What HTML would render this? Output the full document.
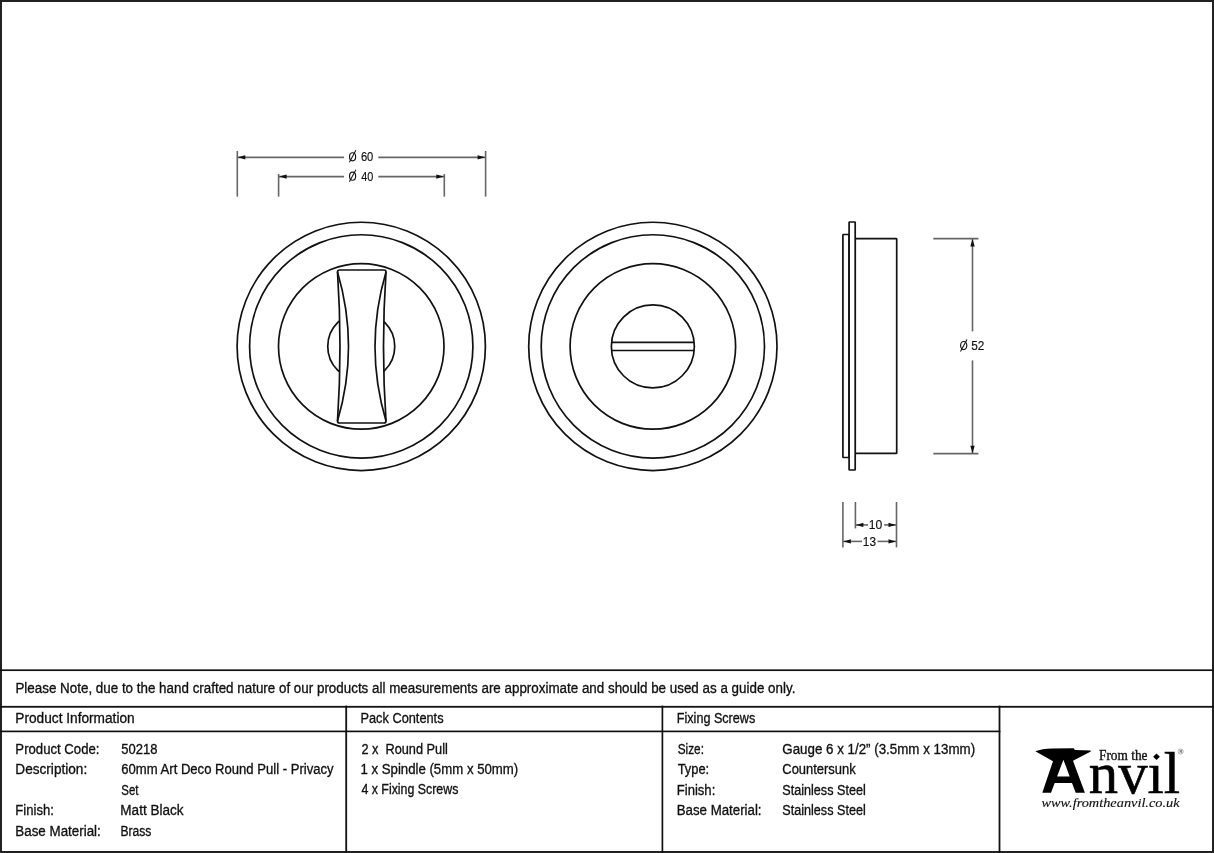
<!DOCTYPE html>
<html><head><meta charset="utf-8"><title>Drawing</title>
<style>html,body{margin:0;padding:0;background:#fff;width:1214px;height:853px;overflow:hidden}svg{display:block;will-change:transform}text{white-space:pre}</style>
</head><body>
<svg width="1214" height="853" viewBox="0 0 1214 853">
<rect x="0" y="0" width="1214" height="853" fill="#fff"/>
<rect x="1" y="1" width="1212" height="851" fill="none" stroke="#222" stroke-width="2"/>
<rect x="0" y="669.35" width="1214" height="1.7" fill="#111"/>
<rect x="0" y="705.9" width="1214" height="1.8" fill="#111"/>
<rect x="0" y="730.55" width="1000.4" height="1.7" fill="#111"/>
<rect x="345.3" y="705.6" width="1.8" height="148" fill="#111"/>
<rect x="661.55" y="705.6" width="1.7" height="148" fill="#111"/>
<rect x="998.6" y="705.6" width="1.8" height="148" fill="#111"/>
<circle cx="361.25" cy="346.4" r="124.15" fill="none" stroke="#111" stroke-width="1.7"/>
<circle cx="361.25" cy="346.4" r="111.65" fill="none" stroke="#111" stroke-width="1.7"/>
<circle cx="361.25" cy="346.4" r="82.75" fill="none" stroke="#111" stroke-width="1.7"/>
<circle cx="361.25" cy="346.4" r="33.5" fill="none" stroke="#111" stroke-width="1.7"/>
<path d="M339.5,270.0 L384.0,270.0 Q386.0,270.0 386.0,272.0 Q381.0,346.5 386.0,421.0 Q386.0,423.0 384.0,423.0 L339.5,423.0 Q337.5,423.0 337.5,421.0 Q342.5,346.5 337.5,272.0 Q337.5,270.0 339.5,270.0 Z" fill="#fff" stroke="#111" stroke-width="1.7" stroke-linejoin="round"/>
<path d="M337.5,272.0 Q359.5,346.5 337.5,421.0" fill="none" stroke="#111" stroke-width="1.7"/>
<path d="M386.0,272.0 Q364.0,346.5 386.0,421.0" fill="none" stroke="#111" stroke-width="1.7"/>
<circle cx="652.85" cy="346.4" r="124.15" fill="none" stroke="#111" stroke-width="1.7"/>
<circle cx="652.85" cy="346.4" r="111.65" fill="none" stroke="#111" stroke-width="1.7"/>
<circle cx="652.85" cy="346.4" r="82.75" fill="none" stroke="#111" stroke-width="1.7"/>
<circle cx="652.85" cy="346.4" r="41.5" fill="none" stroke="#111" stroke-width="1.7"/>
<line x1="611.55" y1="342.3" x2="694.15" y2="342.3" stroke="#111" stroke-width="1.7"/>
<line x1="611.55" y1="350.5" x2="694.15" y2="350.5" stroke="#111" stroke-width="1.7"/>
<rect x="855.2" y="238.7" width="41.50" height="214.70" rx="0.5" fill="#fff" stroke="#111" stroke-width="1.7"/>
<rect x="842.9" y="234.5" width="6.20" height="223.00" rx="0.6" fill="#fff" stroke="#111" stroke-width="1.7"/>
<rect x="849.1" y="222.0" width="6.10" height="248.00" rx="0.6" fill="#fff" stroke="#111" stroke-width="1.7"/>
<line x1="237.3" y1="151" x2="237.3" y2="196.6" stroke="#666" stroke-width="1.6"/>
<line x1="485.6" y1="151" x2="485.6" y2="196.6" stroke="#666" stroke-width="1.6"/>
<line x1="237.3" y1="157.35" x2="344" y2="157.35" stroke="#666" stroke-width="1.6"/>
<line x1="378.3" y1="157.35" x2="485.6" y2="157.35" stroke="#666" stroke-width="1.6"/>
<path d="M237.80,157.35 L245.30,155.15 L245.30,159.55 Z" fill="#111"/>
<path d="M485.10,157.35 L477.60,159.55 L477.60,155.15 Z" fill="#111"/>
<line x1="278.6" y1="174" x2="278.6" y2="196.6" stroke="#666" stroke-width="1.6"/>
<line x1="444.3" y1="174" x2="444.3" y2="196.6" stroke="#666" stroke-width="1.6"/>
<line x1="278.6" y1="176.6" x2="344" y2="176.6" stroke="#666" stroke-width="1.6"/>
<line x1="378.3" y1="176.6" x2="444.3" y2="176.6" stroke="#666" stroke-width="1.6"/>
<path d="M279.10,176.60 L286.60,174.40 L286.60,178.80 Z" fill="#111"/>
<path d="M443.80,176.60 L436.30,178.80 L436.30,174.40 Z" fill="#111"/>
<line x1="933.3" y1="238.6" x2="978.4" y2="238.6" stroke="#666" stroke-width="1.6"/>
<line x1="933.3" y1="453.65" x2="978.4" y2="453.65" stroke="#666" stroke-width="1.6"/>
<line x1="972.5" y1="238.6" x2="972.5" y2="331.4" stroke="#666" stroke-width="1.6"/>
<line x1="972.5" y1="360.4" x2="972.5" y2="453.65" stroke="#666" stroke-width="1.6"/>
<path d="M972.50,239.10 L974.70,246.60 L970.30,246.60 Z" fill="#111"/>
<path d="M972.50,453.15 L970.30,445.65 L974.70,445.65 Z" fill="#111"/>
<line x1="842.9" y1="502" x2="842.9" y2="547.4" stroke="#666" stroke-width="1.6"/>
<line x1="855.4" y1="502" x2="855.4" y2="528.4" stroke="#666" stroke-width="1.6"/>
<line x1="896.5" y1="502" x2="896.5" y2="547.4" stroke="#666" stroke-width="1.6"/>
<line x1="855.4" y1="524.9" x2="868" y2="524.9" stroke="#666" stroke-width="1.6"/>
<line x1="884.2" y1="524.9" x2="896.5" y2="524.9" stroke="#666" stroke-width="1.6"/>
<path d="M855.90,524.90 L863.40,522.70 L863.40,527.10 Z" fill="#111"/>
<path d="M896.00,524.90 L888.50,527.10 L888.50,522.70 Z" fill="#111"/>
<line x1="842.9" y1="541.4" x2="862" y2="541.4" stroke="#666" stroke-width="1.6"/>
<line x1="877.5" y1="541.4" x2="896.5" y2="541.4" stroke="#666" stroke-width="1.6"/>
<path d="M843.40,541.40 L850.90,539.20 L850.90,543.60 Z" fill="#111"/>
<path d="M896.00,541.40 L888.50,543.60 L888.50,539.20 Z" fill="#111"/>
<ellipse cx="352.6" cy="156.8" rx="3.05" ry="4.05" fill="none" stroke="#111" stroke-width="1.15"/>
<line x1="349.4" y1="162.3" x2="355.9" y2="150.3" stroke="#111" stroke-width="1.05"/>
<ellipse cx="352.6" cy="176.2" rx="3.05" ry="4.05" fill="none" stroke="#111" stroke-width="1.15"/>
<line x1="349.4" y1="181.7" x2="355.9" y2="169.7" stroke="#111" stroke-width="1.05"/>
<ellipse cx="963.7" cy="345.5" rx="3.1" ry="4.05" fill="none" stroke="#111" stroke-width="1.15"/>
<line x1="960.5" y1="351.4" x2="967.0" y2="339.4" stroke="#111" stroke-width="1.05"/>
<path d="M1035.3,751.3 Q1042,748.9 1052,748.6 L1073.8,748.3 L1074.8,749.9 L1090.6,750.4 L1090.8,751.5 L1073,760.8 L1084.9,792.8 L1075.7,792.8 L1072.0,782.9 L1054.7,782.9 L1051,792.8 L1042.3,792.8 L1053,761.2 Z M1063.4,759.7 L1069.7,776.6 L1057.07,776.6 Z" fill="#000" fill-rule="evenodd"/>
<path d="M1156.5,753.4 L1159.9,756.7 L1156.5,760.0 L1153.1,756.7 Z" fill="#000"/>
<circle cx="1180.7" cy="751.5" r="2.6" fill="none" stroke="#aaa" stroke-width="0.9"/><text x="1179.5" y="753.0" font-family="Liberation Sans" font-size="4" font-weight="bold" fill="#555">R</text>
<text x="15.44" y="692.80" font-family="Liberation Sans" font-size="14" font-style="normal" fill="#111" stroke="#111" stroke-width="0.32" textLength="779.92" lengthAdjust="spacingAndGlyphs" xml:space="preserve">Please Note, due to the hand crafted nature of our products all measurements are approximate and should be used as a guide only.</text>
<text x="15.32" y="722.50" font-family="Liberation Sans" font-size="14" font-style="normal" fill="#111" stroke="#111" stroke-width="0.32" textLength="119.34" lengthAdjust="spacingAndGlyphs" xml:space="preserve">Product Information</text>
<text x="360.49" y="722.50" font-family="Liberation Sans" font-size="14" font-style="normal" fill="#111" stroke="#111" stroke-width="0.32" textLength="83.07" lengthAdjust="spacingAndGlyphs" xml:space="preserve">Pack Contents</text>
<text x="676.80" y="722.50" font-family="Liberation Sans" font-size="14" font-style="normal" fill="#111" stroke="#111" stroke-width="0.32" textLength="78.43" lengthAdjust="spacingAndGlyphs" xml:space="preserve">Fixing Screws</text>
<text x="15.36" y="753.50" font-family="Liberation Sans" font-size="14" font-style="normal" fill="#111" stroke="#111" stroke-width="0.32" textLength="84.11" lengthAdjust="spacingAndGlyphs" xml:space="preserve">Product Code:</text>
<text x="121.30" y="753.50" font-family="Liberation Sans" font-size="14" font-style="normal" fill="#111" stroke="#111" stroke-width="0.32" textLength="36.14" lengthAdjust="spacingAndGlyphs" xml:space="preserve">50218</text>
<text x="15.33" y="774.20" font-family="Liberation Sans" font-size="14" font-style="normal" fill="#111" stroke="#111" stroke-width="0.32" textLength="71.87" lengthAdjust="spacingAndGlyphs" xml:space="preserve">Description:</text>
<text x="121.30" y="774.20" font-family="Liberation Sans" font-size="14" font-style="normal" fill="#111" stroke="#111" stroke-width="0.32" textLength="212.29" lengthAdjust="spacingAndGlyphs" xml:space="preserve">60mm Art Deco Round Pull - Privacy</text>
<text x="121.30" y="794.60" font-family="Liberation Sans" font-size="14" font-style="normal" fill="#111" stroke="#111" stroke-width="0.32" textLength="17.11" lengthAdjust="spacingAndGlyphs" xml:space="preserve">Set</text>
<text x="15.37" y="814.80" font-family="Liberation Sans" font-size="14" font-style="normal" fill="#111" stroke="#111" stroke-width="0.32" textLength="38.49" lengthAdjust="spacingAndGlyphs" xml:space="preserve">Finish:</text>
<text x="120.33" y="814.80" font-family="Liberation Sans" font-size="14" font-style="normal" fill="#111" stroke="#111" stroke-width="0.32" textLength="63.21" lengthAdjust="spacingAndGlyphs" xml:space="preserve">Matt Black</text>
<text x="15.35" y="835.50" font-family="Liberation Sans" font-size="14" font-style="normal" fill="#111" stroke="#111" stroke-width="0.32" textLength="85.42" lengthAdjust="spacingAndGlyphs" xml:space="preserve">Base Material:</text>
<text x="120.43" y="835.50" font-family="Liberation Sans" font-size="14" font-style="normal" fill="#111" stroke="#111" stroke-width="0.32" textLength="30.99" lengthAdjust="spacingAndGlyphs" xml:space="preserve">Brass</text>
<text x="361.40" y="753.50" font-family="Liberation Sans" font-size="14" font-style="normal" fill="#111" stroke="#111" stroke-width="0.32" textLength="86.47" lengthAdjust="spacingAndGlyphs" xml:space="preserve">2 x  Round Pull</text>
<text x="360.46" y="774.00" font-family="Liberation Sans" font-size="14" font-style="normal" fill="#111" stroke="#111" stroke-width="0.32" textLength="157.81" lengthAdjust="spacingAndGlyphs" xml:space="preserve">1 x Spindle (5mm x 50mm)</text>
<text x="361.40" y="794.40" font-family="Liberation Sans" font-size="14" font-style="normal" fill="#111" stroke="#111" stroke-width="0.32" textLength="96.94" lengthAdjust="spacingAndGlyphs" xml:space="preserve">4 x Fixing Screws</text>
<text x="677.70" y="753.50" font-family="Liberation Sans" font-size="14" font-style="normal" fill="#111" stroke="#111" stroke-width="0.32" textLength="26.25" lengthAdjust="spacingAndGlyphs" xml:space="preserve">Size:</text>
<text x="782.30" y="753.50" font-family="Liberation Sans" font-size="14" font-style="normal" fill="#111" stroke="#111" stroke-width="0.32" textLength="192.78" lengthAdjust="spacingAndGlyphs" xml:space="preserve">Gauge 6 x 1/2” (3.5mm x 13mm)</text>
<text x="677.70" y="774.20" font-family="Liberation Sans" font-size="14" font-style="normal" fill="#111" stroke="#111" stroke-width="0.32" textLength="31.45" lengthAdjust="spacingAndGlyphs" xml:space="preserve">Type:</text>
<text x="782.30" y="774.20" font-family="Liberation Sans" font-size="14" font-style="normal" fill="#111" stroke="#111" stroke-width="0.32" textLength="73.44" lengthAdjust="spacingAndGlyphs" xml:space="preserve">Countersunk</text>
<text x="676.77" y="794.60" font-family="Liberation Sans" font-size="14" font-style="normal" fill="#111" stroke="#111" stroke-width="0.32" textLength="38.49" lengthAdjust="spacingAndGlyphs" xml:space="preserve">Finish:</text>
<text x="782.30" y="794.60" font-family="Liberation Sans" font-size="14" font-style="normal" fill="#111" stroke="#111" stroke-width="0.32" textLength="83.45" lengthAdjust="spacingAndGlyphs" xml:space="preserve">Stainless Steel</text>
<text x="676.75" y="814.80" font-family="Liberation Sans" font-size="14" font-style="normal" fill="#111" stroke="#111" stroke-width="0.32" textLength="84.81" lengthAdjust="spacingAndGlyphs" xml:space="preserve">Base Material:</text>
<text x="782.30" y="814.80" font-family="Liberation Sans" font-size="14" font-style="normal" fill="#111" stroke="#111" stroke-width="0.32" textLength="83.45" lengthAdjust="spacingAndGlyphs" xml:space="preserve">Stainless Steel</text>
<text x="360.90" y="161.10" font-family="Liberation Sans" font-size="12.5" font-style="normal" fill="#111" stroke="#111" stroke-width="0.15" textLength="12.42" lengthAdjust="spacingAndGlyphs" xml:space="preserve">60</text>
<text x="361.20" y="180.50" font-family="Liberation Sans" font-size="12.5" font-style="normal" fill="#111" stroke="#111" stroke-width="0.15" textLength="12.12" lengthAdjust="spacingAndGlyphs" xml:space="preserve">40</text>
<text x="971.25" y="350.20" font-family="Liberation Sans" font-size="12.5" font-style="normal" fill="#111" stroke="#111" stroke-width="0.15" textLength="13.16" lengthAdjust="spacingAndGlyphs" xml:space="preserve">52</text>
<text x="868.83" y="528.80" font-family="Liberation Sans" font-size="12.5" font-style="normal" fill="#111" stroke="#111" stroke-width="0.15" textLength="13.48" lengthAdjust="spacingAndGlyphs" xml:space="preserve">10</text>
<text x="862.85" y="545.70" font-family="Liberation Sans" font-size="12.5" font-style="normal" fill="#111" stroke="#111" stroke-width="0.15" textLength="13.16" lengthAdjust="spacingAndGlyphs" xml:space="preserve">13</text>
<text x="1099.00" y="759.70" font-family="Liberation Serif" font-size="13.8" font-style="normal" fill="#111" stroke="#111" stroke-width="0.35" textLength="48.50" lengthAdjust="spacingAndGlyphs" xml:space="preserve">From the</text>
<text x="1088.82" y="793.00" font-family="Liberation Serif" font-size="60" font-style="normal" fill="#000" stroke="#000" stroke-width="0.6" textLength="91.21" lengthAdjust="spacingAndGlyphs" xml:space="preserve">nvıl</text>
<text x="1041.51" y="807.40" font-family="Liberation Serif" font-size="12" font-style="italic" fill="#111" stroke="#111" stroke-width="0.12" textLength="138.08" lengthAdjust="spacingAndGlyphs" xml:space="preserve">www.fromtheanvil.co.uk</text>
</svg>
</body></html>
